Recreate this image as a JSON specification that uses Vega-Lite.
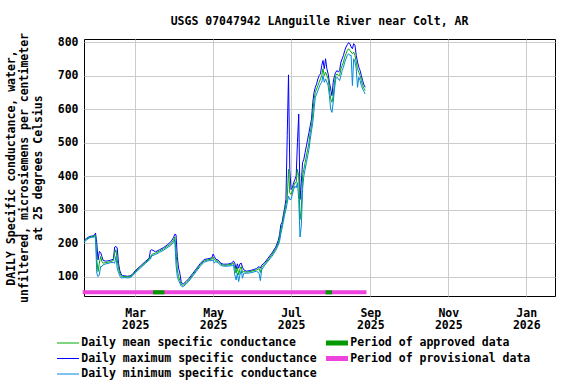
{
  "$schema": "https://vega.github.io/schema/vega-lite/v6.json",
  "width": 471,
  "height": 257,
  "autosize": "none",
  "padding": {"left": 84, "top": 39, "right": 21, "bottom": 88},
  "background": "white",
  "title": {"text": "USGS 07047942 LAnguille River near Colt, AR", "font": "DejaVu Sans Mono", "fontSize": 11.5, "fontWeight": "bold", "color": "black", "anchor": "middle", "offset": 5},
  "config": {
    "view": {"stroke": "black", "strokeWidth": 1},
    "axis": {"labelFont": "DejaVu Sans Mono", "labelFontSize": 11.5, "labelFontWeight": "bold", "labelColor": "black", "ticks": false, "tickSize": 0, "domain": false, "grid": true, "gridColor": "#cccccc", "gridWidth": 1, "titleFont": "DejaVu Sans Mono", "titleFontSize": 11.5, "titleFontWeight": "bold", "titleColor": "black", "labelOverlap": false},
    "legend": {"labelFont": "DejaVu Sans Mono", "labelFontSize": 11.5, "labelFontWeight": "bold", "labelColor": "black", "labelLimit": 400, "padding": 0, "title": null, "symbolType": "M-2.2,0H2.2", "symbolSize": 100}
  },
  "datasets": {
    "sc": [
      {"date": "2025-01-20", "mean": 205, "max": 208, "min": 203},
      {"date": "2025-01-22", "mean": 212, "max": 214, "min": 209},
      {"date": "2025-01-24", "mean": 217, "max": 219, "min": 215},
      {"date": "2025-01-26", "mean": 219, "max": 221, "min": 217},
      {"date": "2025-01-28", "mean": 220, "max": 222, "min": 218},
      {"date": "2025-01-29", "mean": 224, "max": 230, "min": 219},
      {"date": "2025-01-30", "mean": 150, "max": 200, "min": 110},
      {"date": "2025-01-31", "mean": 115, "max": 150, "min": 100},
      {"date": "2025-02-01", "mean": 140, "max": 175, "min": 105},
      {"date": "2025-02-02", "mean": 160, "max": 172, "min": 130},
      {"date": "2025-02-03", "mean": 145, "max": 160, "min": 130},
      {"date": "2025-02-04", "mean": 140, "max": 148, "min": 135},
      {"date": "2025-02-06", "mean": 142, "max": 146, "min": 138},
      {"date": "2025-02-08", "mean": 143, "max": 147, "min": 139},
      {"date": "2025-02-10", "mean": 145, "max": 149, "min": 142},
      {"date": "2025-02-12", "mean": 148, "max": 152, "min": 142},
      {"date": "2025-02-13", "mean": 170, "max": 188, "min": 140},
      {"date": "2025-02-14", "mean": 180, "max": 190, "min": 160},
      {"date": "2025-02-15", "mean": 150, "max": 185, "min": 125},
      {"date": "2025-02-16", "mean": 125, "max": 140, "min": 112},
      {"date": "2025-02-17", "mean": 110, "max": 118, "min": 102},
      {"date": "2025-02-18", "mean": 102, "max": 108, "min": 96},
      {"date": "2025-02-19", "mean": 100, "max": 103, "min": 96},
      {"date": "2025-02-21", "mean": 100, "max": 102, "min": 97},
      {"date": "2025-02-23", "mean": 99, "max": 101, "min": 96},
      {"date": "2025-02-25", "mean": 100, "max": 102, "min": 97},
      {"date": "2025-02-27", "mean": 105, "max": 107, "min": 102},
      {"date": "2025-03-01", "mean": 114, "max": 117, "min": 111},
      {"date": "2025-03-05", "mean": 128, "max": 131, "min": 125},
      {"date": "2025-03-09", "mean": 142, "max": 145, "min": 139},
      {"date": "2025-03-12", "mean": 152, "max": 155, "min": 149},
      {"date": "2025-03-13", "mean": 158, "max": 178, "min": 152},
      {"date": "2025-03-14", "mean": 166, "max": 180, "min": 162},
      {"date": "2025-03-17", "mean": 170, "max": 174, "min": 166},
      {"date": "2025-03-20", "mean": 176, "max": 180, "min": 172},
      {"date": "2025-03-23", "mean": 182, "max": 186, "min": 178},
      {"date": "2025-03-26", "mean": 190, "max": 194, "min": 186},
      {"date": "2025-03-29", "mean": 198, "max": 204, "min": 193},
      {"date": "2025-03-31", "mean": 208, "max": 216, "min": 202},
      {"date": "2025-04-01", "mean": 218, "max": 226, "min": 210},
      {"date": "2025-04-02", "mean": 175, "max": 225, "min": 135},
      {"date": "2025-04-03", "mean": 120, "max": 160, "min": 100},
      {"date": "2025-04-04", "mean": 100, "max": 125, "min": 88},
      {"date": "2025-04-05", "mean": 88, "max": 110, "min": 80},
      {"date": "2025-04-06", "mean": 78, "max": 85, "min": 72},
      {"date": "2025-04-07", "mean": 74, "max": 78, "min": 70},
      {"date": "2025-04-08", "mean": 75, "max": 79, "min": 71},
      {"date": "2025-04-10", "mean": 82, "max": 86, "min": 78},
      {"date": "2025-04-12", "mean": 90, "max": 94, "min": 86},
      {"date": "2025-04-15", "mean": 105, "max": 109, "min": 101},
      {"date": "2025-04-18", "mean": 120, "max": 124, "min": 116},
      {"date": "2025-04-21", "mean": 135, "max": 139, "min": 131},
      {"date": "2025-04-24", "mean": 147, "max": 151, "min": 143},
      {"date": "2025-04-27", "mean": 150, "max": 153, "min": 147},
      {"date": "2025-04-30", "mean": 152, "max": 156, "min": 148},
      {"date": "2025-05-01", "mean": 158, "max": 167, "min": 150},
      {"date": "2025-05-02", "mean": 150, "max": 160, "min": 140},
      {"date": "2025-05-03", "mean": 148, "max": 152, "min": 145},
      {"date": "2025-05-05", "mean": 145, "max": 149, "min": 141},
      {"date": "2025-05-07", "mean": 137, "max": 140, "min": 133},
      {"date": "2025-05-09", "mean": 134, "max": 137, "min": 131},
      {"date": "2025-05-12", "mean": 134, "max": 137, "min": 131},
      {"date": "2025-05-15", "mean": 136, "max": 139, "min": 132},
      {"date": "2025-05-17", "mean": 140, "max": 146, "min": 135},
      {"date": "2025-05-18", "mean": 125, "max": 140, "min": 105},
      {"date": "2025-05-19", "mean": 110, "max": 122, "min": 90},
      {"date": "2025-05-20", "mean": 128, "max": 138, "min": 110},
      {"date": "2025-05-21", "mean": 105, "max": 125, "min": 85},
      {"date": "2025-05-22", "mean": 122, "max": 138, "min": 105},
      {"date": "2025-05-23", "mean": 130, "max": 140, "min": 118},
      {"date": "2025-05-24", "mean": 112, "max": 128, "min": 95},
      {"date": "2025-05-25", "mean": 115, "max": 120, "min": 110},
      {"date": "2025-05-27", "mean": 113, "max": 116, "min": 110},
      {"date": "2025-05-30", "mean": 115, "max": 118, "min": 111},
      {"date": "2025-06-02", "mean": 118, "max": 121, "min": 114},
      {"date": "2025-06-04", "mean": 120, "max": 124, "min": 116},
      {"date": "2025-06-06", "mean": 124, "max": 130, "min": 110},
      {"date": "2025-06-07", "mean": 112, "max": 125, "min": 88},
      {"date": "2025-06-08", "mean": 128, "max": 134, "min": 120},
      {"date": "2025-06-10", "mean": 136, "max": 140, "min": 132},
      {"date": "2025-06-13", "mean": 150, "max": 155, "min": 146},
      {"date": "2025-06-16", "mean": 165, "max": 170, "min": 160},
      {"date": "2025-06-19", "mean": 183, "max": 188, "min": 178},
      {"date": "2025-06-21", "mean": 200, "max": 208, "min": 194},
      {"date": "2025-06-22", "mean": 215, "max": 225, "min": 205},
      {"date": "2025-06-23", "mean": 240, "max": 255, "min": 228},
      {"date": "2025-06-24", "mean": 255, "max": 262, "min": 245},
      {"date": "2025-06-25", "mean": 275, "max": 285, "min": 265},
      {"date": "2025-06-26", "mean": 295, "max": 305, "min": 285},
      {"date": "2025-06-27", "mean": 315, "max": 330, "min": 300},
      {"date": "2025-06-28", "mean": 335, "max": 520, "min": 320},
      {"date": "2025-06-29", "mean": 420, "max": 702, "min": 340},
      {"date": "2025-06-30", "mean": 350, "max": 420, "min": 330},
      {"date": "2025-07-01", "mean": 345, "max": 360, "min": 330},
      {"date": "2025-07-02", "mean": 355, "max": 365, "min": 345},
      {"date": "2025-07-03", "mean": 370, "max": 380, "min": 360},
      {"date": "2025-07-04", "mean": 380, "max": 390, "min": 370},
      {"date": "2025-07-05", "mean": 380, "max": 400, "min": 365},
      {"date": "2025-07-06", "mean": 420, "max": 500, "min": 380},
      {"date": "2025-07-07", "mean": 400, "max": 585, "min": 330},
      {"date": "2025-07-08", "mean": 270, "max": 330, "min": 218},
      {"date": "2025-07-09", "mean": 300, "max": 380, "min": 250},
      {"date": "2025-07-10", "mean": 400, "max": 440, "min": 360},
      {"date": "2025-07-11", "mean": 420, "max": 450, "min": 400},
      {"date": "2025-07-12", "mean": 440, "max": 470, "min": 420},
      {"date": "2025-07-13", "mean": 460, "max": 490, "min": 440},
      {"date": "2025-07-14", "mean": 480, "max": 510, "min": 460},
      {"date": "2025-07-15", "mean": 500, "max": 530, "min": 480},
      {"date": "2025-07-16", "mean": 530, "max": 550, "min": 510},
      {"date": "2025-07-17", "mean": 550, "max": 570, "min": 535},
      {"date": "2025-07-18", "mean": 590, "max": 620, "min": 560},
      {"date": "2025-07-19", "mean": 630, "max": 650, "min": 600},
      {"date": "2025-07-20", "mean": 650, "max": 665, "min": 635},
      {"date": "2025-07-21", "mean": 660, "max": 675, "min": 645},
      {"date": "2025-07-22", "mean": 670, "max": 690, "min": 655},
      {"date": "2025-07-23", "mean": 680, "max": 700, "min": 665},
      {"date": "2025-07-24", "mean": 690, "max": 705, "min": 675},
      {"date": "2025-07-25", "mean": 700, "max": 730, "min": 680},
      {"date": "2025-07-26", "mean": 720, "max": 745, "min": 700},
      {"date": "2025-07-27", "mean": 700, "max": 720, "min": 680},
      {"date": "2025-07-28", "mean": 710, "max": 750, "min": 690},
      {"date": "2025-07-29", "mean": 700, "max": 720, "min": 680},
      {"date": "2025-07-30", "mean": 690, "max": 705, "min": 670},
      {"date": "2025-07-31", "mean": 660, "max": 680, "min": 640},
      {"date": "2025-08-01", "mean": 630, "max": 660, "min": 600},
      {"date": "2025-08-02", "mean": 620, "max": 640, "min": 590},
      {"date": "2025-08-03", "mean": 640, "max": 680, "min": 620},
      {"date": "2025-08-04", "mean": 680, "max": 700, "min": 660},
      {"date": "2025-08-05", "mean": 700, "max": 710, "min": 690},
      {"date": "2025-08-06", "mean": 705, "max": 715, "min": 695},
      {"date": "2025-08-07", "mean": 700, "max": 710, "min": 690},
      {"date": "2025-08-08", "mean": 700, "max": 715, "min": 685},
      {"date": "2025-08-09", "mean": 720, "max": 740, "min": 700},
      {"date": "2025-08-10", "mean": 730, "max": 750, "min": 715},
      {"date": "2025-08-11", "mean": 740, "max": 760, "min": 725},
      {"date": "2025-08-12", "mean": 755, "max": 775, "min": 740},
      {"date": "2025-08-13", "mean": 765, "max": 785, "min": 750},
      {"date": "2025-08-14", "mean": 775, "max": 792, "min": 760},
      {"date": "2025-08-15", "mean": 780, "max": 798, "min": 765},
      {"date": "2025-08-16", "mean": 775, "max": 795, "min": 760},
      {"date": "2025-08-17", "mean": 770, "max": 785, "min": 760},
      {"date": "2025-08-18", "mean": 765, "max": 780, "min": 670},
      {"date": "2025-08-19", "mean": 770, "max": 795, "min": 750},
      {"date": "2025-08-20", "mean": 760, "max": 790, "min": 740},
      {"date": "2025-08-21", "mean": 740, "max": 760, "min": 720},
      {"date": "2025-08-22", "mean": 720, "max": 740, "min": 665},
      {"date": "2025-08-23", "mean": 710, "max": 725, "min": 695},
      {"date": "2025-08-24", "mean": 700, "max": 715, "min": 685},
      {"date": "2025-08-25", "mean": 685, "max": 700, "min": 670},
      {"date": "2025-08-26", "mean": 670, "max": 685, "min": 660},
      {"date": "2025-08-27", "mean": 662, "max": 672, "min": 652},
      {"date": "2025-08-28", "mean": 655, "max": 665, "min": 645}
    ],
    "periods": [
      {"date": "2025-01-19", "end": "2025-08-29", "period": "Period of provisional data"},
      {"date": "2025-03-15", "end": "2025-03-24", "period": "Period of approved data"},
      {"date": "2025-07-28", "end": "2025-08-02", "period": "Period of approved data"}
    ]
  },
  "encoding": {
    "x": {
      "field": "date",
      "type": "temporal",
      "scale": {"type": "utc", "domain": [{"year": 2025, "month": 1, "date": 20, "utc": true}, {"year": 2026, "month": 1, "date": 23, "hours": 12, "utc": true}]},
      "axis": {
        "title": null,
        "values": [
          {"year": 2025, "month": 3, "date": 1, "utc": true},
          {"year": 2025, "month": 5, "date": 1, "utc": true},
          {"year": 2025, "month": 7, "date": 1, "utc": true},
          {"year": 2025, "month": 9, "date": 1, "utc": true},
          {"year": 2025, "month": 11, "date": 1, "utc": true},
          {"year": 2026, "month": 1, "date": 1, "utc": true}
        ],
        "labelExpr": "[utcFormat(datum.value, '%b'), utcFormat(datum.value, '%Y')]",
        "labelPadding": 11,
        "labelLineHeight": 12.5,
        "labelBaseline": "top",
        "labelFlush": false,
        "labelOverlap": false
      }
    }
  },
  "layer": [
    {
      "data": {"name": "periods"},
      "mark": {"type": "rect"},
      "encoding": {
        "x2": {"field": "end"},
        "y": {
          "datum": 47,
          "type": "quantitative",
          "scale": {"domain": [42, 809], "nice": false, "zero": false},
          "axis": {"values": [100, 200, 300, 400, 500, 600, 700, 800], "labelPadding": 6, "labelOverlap": false, "title": ["DAILY Specific conductance, water,", "unfiltered, microsiemens per centimeter", "at 25 degrees Celsius"], "titlePadding": 14, "titleLineHeight": 13.5}
        },
        "y2": {"datum": 59},
        "color": {
          "field": "period",
          "type": "nominal",
          "scale": {"domain": ["Period of approved data", "Period of provisional data"], "range": ["#009900", "#EE44DD"]},
          "legend": {"orient": "none", "legendX": 242, "legendY": 298.25, "symbolType": "M-2.2,-0.5H2.2V0.5H-2.2Z", "symbolSize": 100, "symbolStrokeWidth": 0, "symbolOffset": 5.25, "labelOffset": 7.5, "rowPadding": 2.5}
        }
      }
    },
    {
      "data": {"name": "sc"},
      "mark": {"type": "line", "strokeWidth": 1},
      "encoding": {
        "y": {
          "field": "max",
          "type": "quantitative",
          "scale": {"domain": [42, 809], "nice": false, "zero": false},
          "axis": {"values": [100, 200, 300, 400, 500, 600, 700, 800], "labelPadding": 6, "labelOverlap": false, "title": ["DAILY Specific conductance, water,", "unfiltered, microsiemens per centimeter", "at 25 degrees Celsius"], "titlePadding": 14, "titleLineHeight": 13.5}
        },
        "stroke": {
          "datum": "Daily maximum specific conductance",
          "type": "nominal",
          "scale": {"domain": ["Daily mean specific conductance", "Daily maximum specific conductance", "Daily minimum specific conductance"], "range": ["#00AA00", "#0000FF", "#0088DD"]},
          "legend": {"orient": "none", "legendX": -27, "legendY": 298.25, "symbolStrokeWidth": 1, "symbolOffset": 5.25, "labelOffset": 7.5, "rowPadding": 2.5}
        }
      }
    },
    {
      "data": {"name": "sc"},
      "mark": {"type": "line", "strokeWidth": 1},
      "encoding": {
        "y": {
          "field": "mean",
          "type": "quantitative",
          "scale": {"domain": [42, 809], "nice": false, "zero": false},
          "axis": {"values": [100, 200, 300, 400, 500, 600, 700, 800], "labelPadding": 6, "labelOverlap": false, "title": ["DAILY Specific conductance, water,", "unfiltered, microsiemens per centimeter", "at 25 degrees Celsius"], "titlePadding": 14, "titleLineHeight": 13.5}
        },
        "stroke": {"datum": "Daily mean specific conductance", "type": "nominal"}
      }
    },
    {
      "data": {"name": "sc"},
      "mark": {"type": "line", "strokeWidth": 1},
      "encoding": {
        "y": {
          "field": "min",
          "type": "quantitative",
          "scale": {"domain": [42, 809], "nice": false, "zero": false},
          "axis": {"values": [100, 200, 300, 400, 500, 600, 700, 800], "labelPadding": 6, "labelOverlap": false, "title": ["DAILY Specific conductance, water,", "unfiltered, microsiemens per centimeter", "at 25 degrees Celsius"], "titlePadding": 14, "titleLineHeight": 13.5}
        },
        "stroke": {"datum": "Daily minimum specific conductance", "type": "nominal"}
      }
    }
  ]
}
